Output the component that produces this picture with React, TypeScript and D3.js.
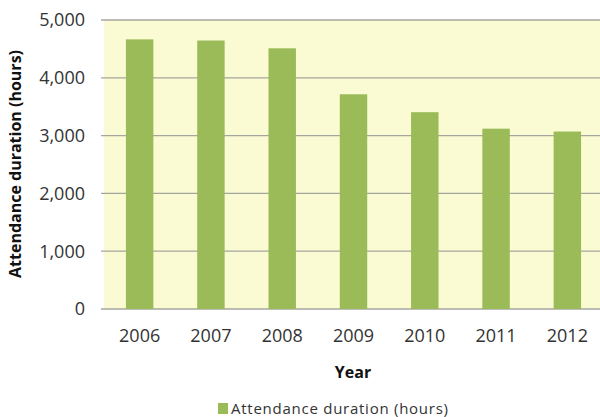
import React from "react";
import * as d3 from "d3";

const years = ["2006", "2007", "2008", "2009", "2010", "2011", "2012"];
const hours = [4665, 4645, 4510, 3715, 3405, 3120, 3070];
const yTicks = [0, 1000, 2000, 3000, 4000, 5000];
const seriesName = "Attendance duration (hours)";
const xTitle = "Year";
const yTitle = "Attendance duration (hours)";

const W = 600;
const H = 417;
const left = 104;
const right = 603;
const top = 20;
const bottom = 309;
const font = "'Open Sans', sans-serif";

export default function App() {
  const x = d3.scaleBand<string>().domain(years).range([left, right]).paddingInner(0.615).paddingOuter(0.3075);
  const y = d3.scaleLinear().domain([0, 5000]).range([bottom, top]);
  const fmt = d3.format(",");
  return (
    <svg width={W} height={H} style={{ position: "absolute", left: 0, top: 0, background: "#fff" }}>
      <rect x={left} y={top} width={right - left} height={bottom - top} fill="#fafbd2" />
      {yTicks.map((t) => (
        <g key={t}>
          <line x1={left - 3} x2={right} y1={y(t)} y2={y(t)} stroke="#a6a6a0" strokeWidth={1.3} />
          <text x={85} y={y(t)} dy="0.36em" textAnchor="end" fontFamily={font} fontSize={18} fill="#333">
            {fmt(t)}
          </text>
        </g>
      ))}
      {years.map((yr, i) => (
        <rect key={yr} x={x(yr)} y={y(hours[i])} width={x.bandwidth()} height={y(0) - y(hours[i])} fill="#9bbb59" />
      ))}
      {years.map((yr) => (
        <text key={yr} x={(x(yr) as number) + x.bandwidth() / 2} y={342} textAnchor="middle" fontFamily={font} fontSize={18} fill="#333">
          {yr}
        </text>
      ))}
      <text x={353} y={378} textAnchor="middle" fontFamily={font} fontSize={16} fontWeight="bold" fill="#111">
        {xTitle}
      </text>
      <text transform={`translate(21,164) rotate(-90)`} textAnchor="middle" fontFamily={font} fontSize={16} fontWeight="bold" fill="#111">
        {yTitle}
      </text>
      <rect x={218} y={403} width={10} height={11} fill="#9bbb59" />
      <text x={231} y={414} fontFamily={font} fontSize={15} fill="#333" textLength={217}>
        {seriesName}
      </text>
    </svg>
  );
}
